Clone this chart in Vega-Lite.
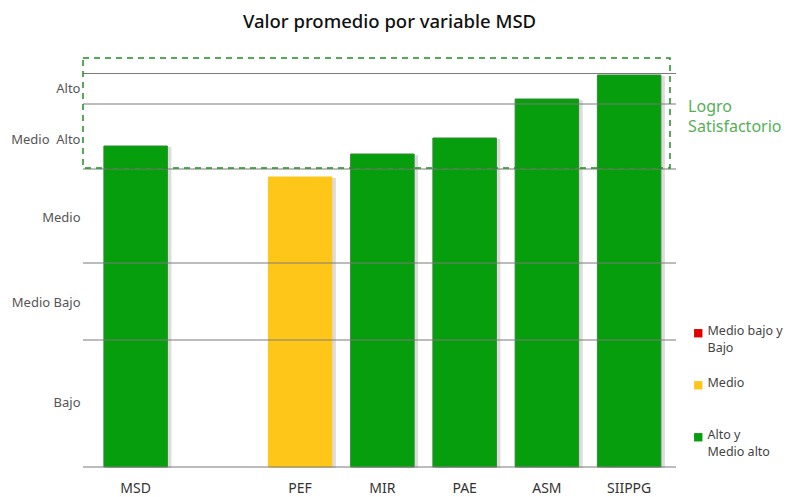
{
  "$schema": "https://vega.github.io/schema/vega-lite/v6.json",
  "width": 593,
  "height": 427,
  "autosize": {"type": "none"},
  "padding": {"left": 83, "top": 40, "right": 116, "bottom": 30},
  "background": "white",
  "config": {"view": {"stroke": null}, "font": "Noto Sans"},
  "title": {"text": "Valor promedio por variable MSD", "fontSize": 18.5, "fontWeight": 500, "color": "#111", "font": "Noto Sans", "anchor": "middle", "dx": 10, "offset": 9},
  "datasets": {
    "bars": [
      {"variable": "MSD", "valor": 321, "nivel": "Alto y Medio alto"},
      {"variable": "PEF", "valor": 290, "nivel": "Medio"},
      {"variable": "MIR", "valor": 313, "nivel": "Alto y Medio alto"},
      {"variable": "PAE", "valor": 329, "nivel": "Alto y Medio alto"},
      {"variable": "ASM", "valor": 368, "nivel": "Alto y Medio alto"},
      {"variable": "SIIPPG", "valor": 392, "nivel": "Alto y Medio alto"}
    ],
    "grid": [{"y": 393.5}, {"y": 363}, {"y": 298}, {"y": 204}, {"y": 127}, {"y": 0}],
    "box": [{"top": 409, "bottom": 299, "variable": "SIIPPG", "label": "Logro Satisfactorio", "mid": 360}]
  },
  "layer": [
    {
      "data": {"name": "bars"},
      "mark": {"type": "bar", "color": "#9a9a9a", "opacity": 0.35, "xOffset": 4, "yOffset": 1},
      "encoding": {
        "x": {"field": "variable", "type": "nominal", "sort": ["MSD", " ", "PEF", "MIR", "PAE", "ASM", "SIIPPG"],
              "scale": {"domain": ["MSD", " ", "PEF", "MIR", "PAE", "ASM", "SIIPPG"], "paddingInner": 0.228, "paddingOuter": 0.219, "align": 0.58},
              "axis": {"title": null, "labelAngle": 0, "ticks": false, "domain": false, "labelPadding": 14, "labelFontSize": 14, "labelColor": "#333", "labelFont": "Noto Sans"}},
        "y": {"field": "valor", "type": "quantitative", "scale": {"domain": [0, 427], "nice": false, "zero": true},
              "axis": {"title": null, "grid": false, "domain": false, "ticks": false, "values": [65, 165, 250, 328, 379],
                       "labelExpr": "datum.value == 379 ? 'Alto' : datum.value == 328 ? 'Medio\u00a0 Alto' : datum.value == 250 ? 'Medio' : datum.value == 165 ? 'Medio Bajo' : 'Bajo'",
                       "labelPadding": 3, "labelFontSize": 13, "labelColor": "#555", "labelFont": "Noto Sans"}}
      }
    },
    {
      "data": {"name": "bars"},
      "mark": {"type": "bar", "strokeWidth": 1},
      "encoding": {
        "x": {"field": "variable", "type": "nominal", "sort": ["MSD", " ", "PEF", "MIR", "PAE", "ASM", "SIIPPG"]},
        "y": {"field": "valor", "type": "quantitative"},
        "color": {"field": "nivel", "type": "nominal",
                  "scale": {"domain": ["Medio bajo y Bajo", "Medio", "Alto y Medio alto"], "range": ["#E00000", "#FFC61A", "#069E0D"]},
                  "legend": {"title": null, "orient": "none", "legendX": 609, "legendY": 287, "symbolType": "square", "symbolSize": 70,
                             "symbolStrokeWidth": 0, "labelFontSize": 12.5, "labelColor": "#444", "labelFont": "Noto Sans", "rowPadding": 22, "labelOffset": 3,
                             "labelBaseline": "top", "labelLimit": 200,
                             "labelExpr": "datum.label == 'Medio bajo y Bajo' ? ['Medio bajo y', 'Bajo'] : datum.label == 'Alto y Medio alto' ? ['Alto y', 'Medio alto'] : [datum.label, ' ']",
                             "encode": {"labels": {"update": {"dy": {"value": -8}, "lineHeight": {"value": 17}}}}}},
        "stroke": {"field": "nivel", "type": "nominal",
                   "scale": {"domain": ["Medio bajo y Bajo", "Medio", "Alto y Medio alto"], "range": ["#B00000", "#FFC61A", "#2E8B2E"]},
                   "legend": null}
      }
    },
    {
      "data": {"name": "grid"},
      "mark": {"type": "rule", "color": "#7a7a7a", "strokeWidth": 1.2},
      "encoding": {"y": {"field": "y", "type": "quantitative"}}
    },
    {
      "data": {"name": "box"},
      "mark": {"type": "rect", "fill": null, "stroke": "#1E8E1E", "strokeWidth": 1.5, "strokeDash": [6, 5], "xOffset": -6, "x2Offset": 5},
      "encoding": {
        "y": {"field": "top", "type": "quantitative"},
        "y2": {"field": "bottom"}
      }
    },
    {
      "data": {"name": "box"},
      "mark": {"type": "text", "align": "left", "baseline": "middle", "dx": 59, "fontSize": 16, "color": "#55B055", "lineBreak": " ", "lineHeight": 20, "font": "Noto Sans"},
      "encoding": {
        "x": {"field": "variable", "type": "nominal", "sort": ["MSD", " ", "PEF", "MIR", "PAE", "ASM", "SIIPPG"]},
        "y": {"field": "mid", "type": "quantitative"},
        "text": {"field": "label"}
      }
    }
  ]
}
